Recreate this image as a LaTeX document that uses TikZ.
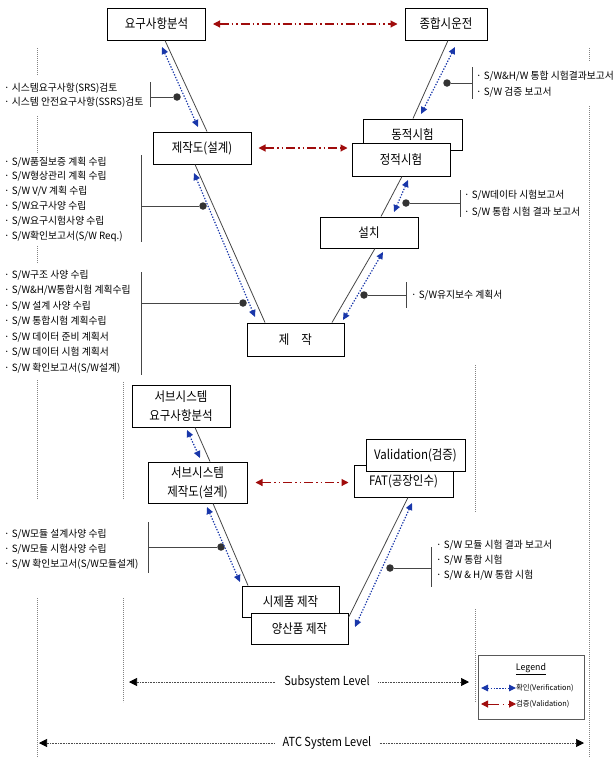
\documentclass[tikz,border=0pt]{standalone}
\usepackage{fontspec}
\setmainfont{Noto Sans CJK KR}
\newfontfamily\boxfont{Noto Sans CJK KR}[FakeStretch=0.88]
\newfontfamily\listfont{Noto Sans CJK KR}[FakeStretch=0.98]
\usetikzlibrary{arrows.meta,calc}

\definecolor{vblue}{RGB}{25,55,170}
\definecolor{vred}{RGB}{160,12,12}
\definecolor{guidegray}{RGB}{130,130,130}
\definecolor{linegray}{RGB}{70,70,70}

\tikzset{
  stage/.style={draw=black, line width=1pt, fill=white, minimum width=98pt,
    minimum height=32pt, inner sep=0pt, align=center,
    font=\boxfont\fontsize{13}{19}\selectfont},
  vline/.style={draw=linegray, line width=0.8pt},
  verif/.style={draw=vblue, line width=1.2pt, dash pattern=on 1.3pt off 1.6pt,
    {Triangle[length=7pt,width=6.5pt]}-{Triangle[length=7pt,width=6.5pt]}},
  valid/.style={draw=vred, line width=1.1pt,
    dash pattern=on 9pt off 3pt on 1.5pt off 3pt on 1.5pt off 3pt,
    {Triangle[length=7pt,width=7pt]}-{Triangle[length=7pt,width=7pt]}},
  bracket/.style={draw=linegray, line width=0.9pt},
  knot/.style={circle, fill=black!80, inner sep=0pt, minimum size=7.5pt},
  listbox/.style={fill=white, align=left, inner xsep=2pt, inner ysep=4pt,
    font=\listfont\fontsize{10}{#1}\selectfont},
  listbox/.default=15,
  guide/.style={draw=guidegray, line width=0.6pt, dash pattern=on 0.8pt off 1.2pt},
  level/.style={draw=black!70, line width=0.7pt, dash pattern=on 0.8pt off 0.8pt,
    {Triangle[length=8pt,width=8pt,color=black]}-{Triangle[length=8pt,width=8pt,color=black]}},
  levellabel/.style={fill=white, inner xsep=8pt, inner ysep=2pt,
    font=\boxfont\fontsize{12.5}{14}\selectfont},
  legendfont/.style={font=\listfont\fontsize{7.5}{8}\selectfont, inner sep=0pt}
}

\begin{document}
\begin{tikzpicture}[x=1pt,y=-1pt]
\useasboundingbox (0,0) rectangle (613,758);

% dotted level guides
\coordinate (ga1) at (37,48);  \coordinate (ga2) at (37,758);
\coordinate (gb1) at (589,48); \coordinate (gb2) at (589,758);
\coordinate (gc1) at (123,382); \coordinate (gc2) at (123,702);
\coordinate (gd1) at (475,365); \coordinate (gd2) at (475,702);
\draw[guide] (ga1) -- (ga2);
\draw[guide] (gb1) -- (gb2);
\draw[guide] (gc1) -- (gc2);
\draw[guide] (gd1) -- (gd2);

% work product lists
\node[listbox=14, anchor=west, inner ysep=8pt] (l1) at (2,95)
  {· 시스템요구사항(SRS)검토\\· 시스템 안전요구사항(SSRS)검토};
\node[listbox=14.8, anchor=west] (l2) at (2,199)
  {· S/W품질보증 계획 수립\\· S/W형상관리 계획 수립\\· S/W V/V 계획 수립\\
   · S/W요구사양 수립\\· S/W요구시험사양 수립\\· S/W확인보고서(S/W Req.)};
\node[listbox=15.5, anchor=west, inner ysep=6pt] (l3) at (2,321.5)
  {· S/W구조 사양 수립\\· S/W\&H/W통합시험 계획수립\\· S/W 설계 사양 수립\\
   · S/W 통합시험 계획수립\\· S/W 데이터 준비 계획서\\· S/W 데이터 시험 계획서\\
   · S/W 확인보고서(S/W설계)};
\node[listbox=15, anchor=west, minimum height=98pt] (l4) at (2,549)
  {· S/W모듈 설계사양 수립\\· S/W모듈 시험사양 수립\\· S/W 확인보고서(S/W모듈설계)};
\node[listbox=16, anchor=west, inner ysep=9pt] (r1) at (474,84)
  {· S/W\&H/W 통합 시험결과보고서\\· S/W 검증 보고서};
\node[listbox=17, anchor=west] (r2) at (462,203.5)
  {· S/W데이타 시험보고서\\· S/W 통합 시험 결과 보고서};
\node[listbox, anchor=west] (r3) at (409,295) {· S/W유지보수 계획서};
\node[listbox=15, anchor=west, minimum height=96pt] (r4) at (434,560)
  {· S/W 모듈 시험 결과 보고서\\· S/W 통합 시험\\· S/W \& H/W 통합 시험};

% list brackets and their pointers
\coordinate (k1a) at (150,82);  \coordinate (k1b) at (150,107);
\coordinate (k2a) at (141,155); \coordinate (k2b) at (141,242);
\coordinate (k3a) at (141,272); \coordinate (k3b) at (141,375);
\coordinate (k4a) at (148,522); \coordinate (k4b) at (148,573);
\coordinate (k5a) at (472,67);  \coordinate (k5b) at (472,99);
\coordinate (k6a) at (460,190); \coordinate (k6b) at (460,217);
\coordinate (k7a) at (406,282); \coordinate (k7b) at (406,308);
\coordinate (k8a) at (431,547); \coordinate (k8b) at (431,587);
\foreach \k in {1,...,8} \draw[bracket] (k\k a) -- (k\k b);

\node[knot] (d1) at (177,97) {};
\node[knot] (d2) at (203,206) {};
\node[knot] (d3) at (243,303) {};
\node[knot] (d4) at (221,547) {};
\node[knot] (d5) at (447,83) {};
\node[knot] (d6) at (406,203) {};
\node[knot] (d7) at (364,295) {};
\node[knot] (d8) at (390,568) {};
\draw[bracket] (d1) -- (d1 -| k1a);
\draw[bracket] (d2) -- (d2 -| k2a);
\draw[bracket] (d3) -- (d3 -| k3a);
\draw[bracket] (d4) -- (d4 -| k4a);
\draw[bracket] (d5) -- (d5 -| k5a);
\draw[bracket] (d6) -- (d6 -| k6a);
\draw[bracket] (d7) -- (d7 -| k7a);
\draw[bracket] (d8) -- (d8 -| k8a);

% system level stages
\node[stage] (req) at (156.5,24) {요구사항분석};
\node[stage, minimum width=82pt] (comm) at (446,24) {종합시운전};
\node[stage] (design) at (202,148) {제작도(설계)};
\node[stage, minimum width=99pt, minimum height=31pt] (dyn) at (412.5,134.5) {동적시험};
\node[stage, minimum height=33pt] (stat) at (401,159.5) {정적시험};
\node[stage, minimum height=31pt] (inst) at (369,232.5) {설치};
\node[stage, minimum width=97pt, minimum height=33pt] (make) at (295.5,339.5) {제\hspace{12pt}작};

% subsystem level stages
\node[stage, minimum height=42pt] (sreq) at (181,406) {서브시스템\\요구사항분석};
\node[stage, minimum width=99pt, minimum height=41pt] (sdes) at (197.5,482.5) {서브시스템\\제작도(설계)};
\node[stage, minimum width=99pt] (fat) at (403.5,481) {FAT(공장인수)};
\node[stage, minimum width=99pt] (val) at (415.5,455) {Validation(검증)};
\node[stage, minimum width=97pt, minimum height=31pt] (proto) at (290.5,601.5) {시제품 제작};
\node[stage, minimum width=97pt, minimum height=31pt] (mass) at (299.5,628.5) {양산품 제작};

% V-model flow lines
\draw[vline] ([xshift=8.5pt]req.south) -- ([xshift=5pt]design.north);
\draw[vline] ([xshift=-7pt]design.south) -- ([xshift=-30.5pt]make.north);
\draw[vline] ([xshift=2pt]comm.south) -- ([xshift=0.5pt]dyn.north);
\draw[vline] ([xshift=1pt]stat.south) -- ([xshift=12pt]inst.north);
\draw[vline] ([xshift=6pt]inst.south) -- ([xshift=36.5pt]make.north);
\draw[vline] ([xshift=14pt]sreq.south) -- ([xshift=12.5pt]sdes.north);
\draw[vline] ([xshift=15.5pt]sdes.south) -- ([xshift=-42.5pt]proto.north);
\draw[vline] ([xshift=4.5pt]fat.south) -- ([yshift=-5pt]mass.north east);

% verification arrows
\coordinate (v1a) at (162,47);  \coordinate (v1b) at (198,127);
\coordinate (v2a) at (194,173); \coordinate (v2b) at (255,317);
\coordinate (v3a) at (455,47);  \coordinate (v3b) at (421,114);
\coordinate (v4a) at (408,180); \coordinate (v4b) at (394,212);
\coordinate (v5a) at (383,252); \coordinate (v5b) at (343,320);
\coordinate (v6a) at (187,430); \coordinate (v6b) at (200,458);
\coordinate (v7a) at (207,507); \coordinate (v7b) at (240,582);
\coordinate (v8a) at (412,503); \coordinate (v8b) at (355,627);
\foreach \v in {1,...,8} \draw[verif] (v\v a) -- (v\v b);

% validation arrows
\draw[valid, shorten <=7pt, shorten >=7pt] (req.east) -- (comm.west);
\draw[valid, shorten <=7pt, shorten >=4pt] (design.east) -- (design.east -| stat.west);
\draw[valid, shorten <=8pt, shorten >=5pt] (sdes.east) -- (sdes.east -| fat.west);

% level spans
\coordinate (s1) at (129,682); \coordinate (s2) at (469,682);
\draw[level] (s1) -- (s2);
\node[levellabel] (slab) at (327,682) {Subsystem Level};
\coordinate (a1) at (39,743); \coordinate (a2) at (584,743);
\draw[level] (a1) -- (a2);
\node[levellabel] (alab) at (327,743) {ATC System Level};

% legend
\node[draw=black!65, line width=1pt, fill=white, minimum width=106pt,
  minimum height=64pt, inner sep=0pt] (leg) at (531,687) {};
\node[font=\listfont\fontsize{9}{10}\selectfont, inner sep=0pt] (legt) at (531,669) {\underline{Legend}};
\coordinate (lb1) at (481,688); \coordinate (lb2) at (516,688);
\coordinate (lr1) at (481,704); \coordinate (lr2) at (516,704);
\draw[verif, line width=1pt] (lb1) -- (lb2);
\draw[draw=vred, line width=1pt, dash pattern=on 11pt off 4pt on 1.5pt off 4pt on 1.5pt off 4pt,
  {Triangle[length=7pt,width=7pt]}-{Triangle[length=7pt,width=7pt]}] (lr1) -- (lr2);
\node[legendfont, anchor=west] (lbt) at (lb2) {확인(Verification)};
\node[legendfont, anchor=west] (lrt) at (lr2) {검증(Validation)};
\end{tikzpicture}
\end{document}
